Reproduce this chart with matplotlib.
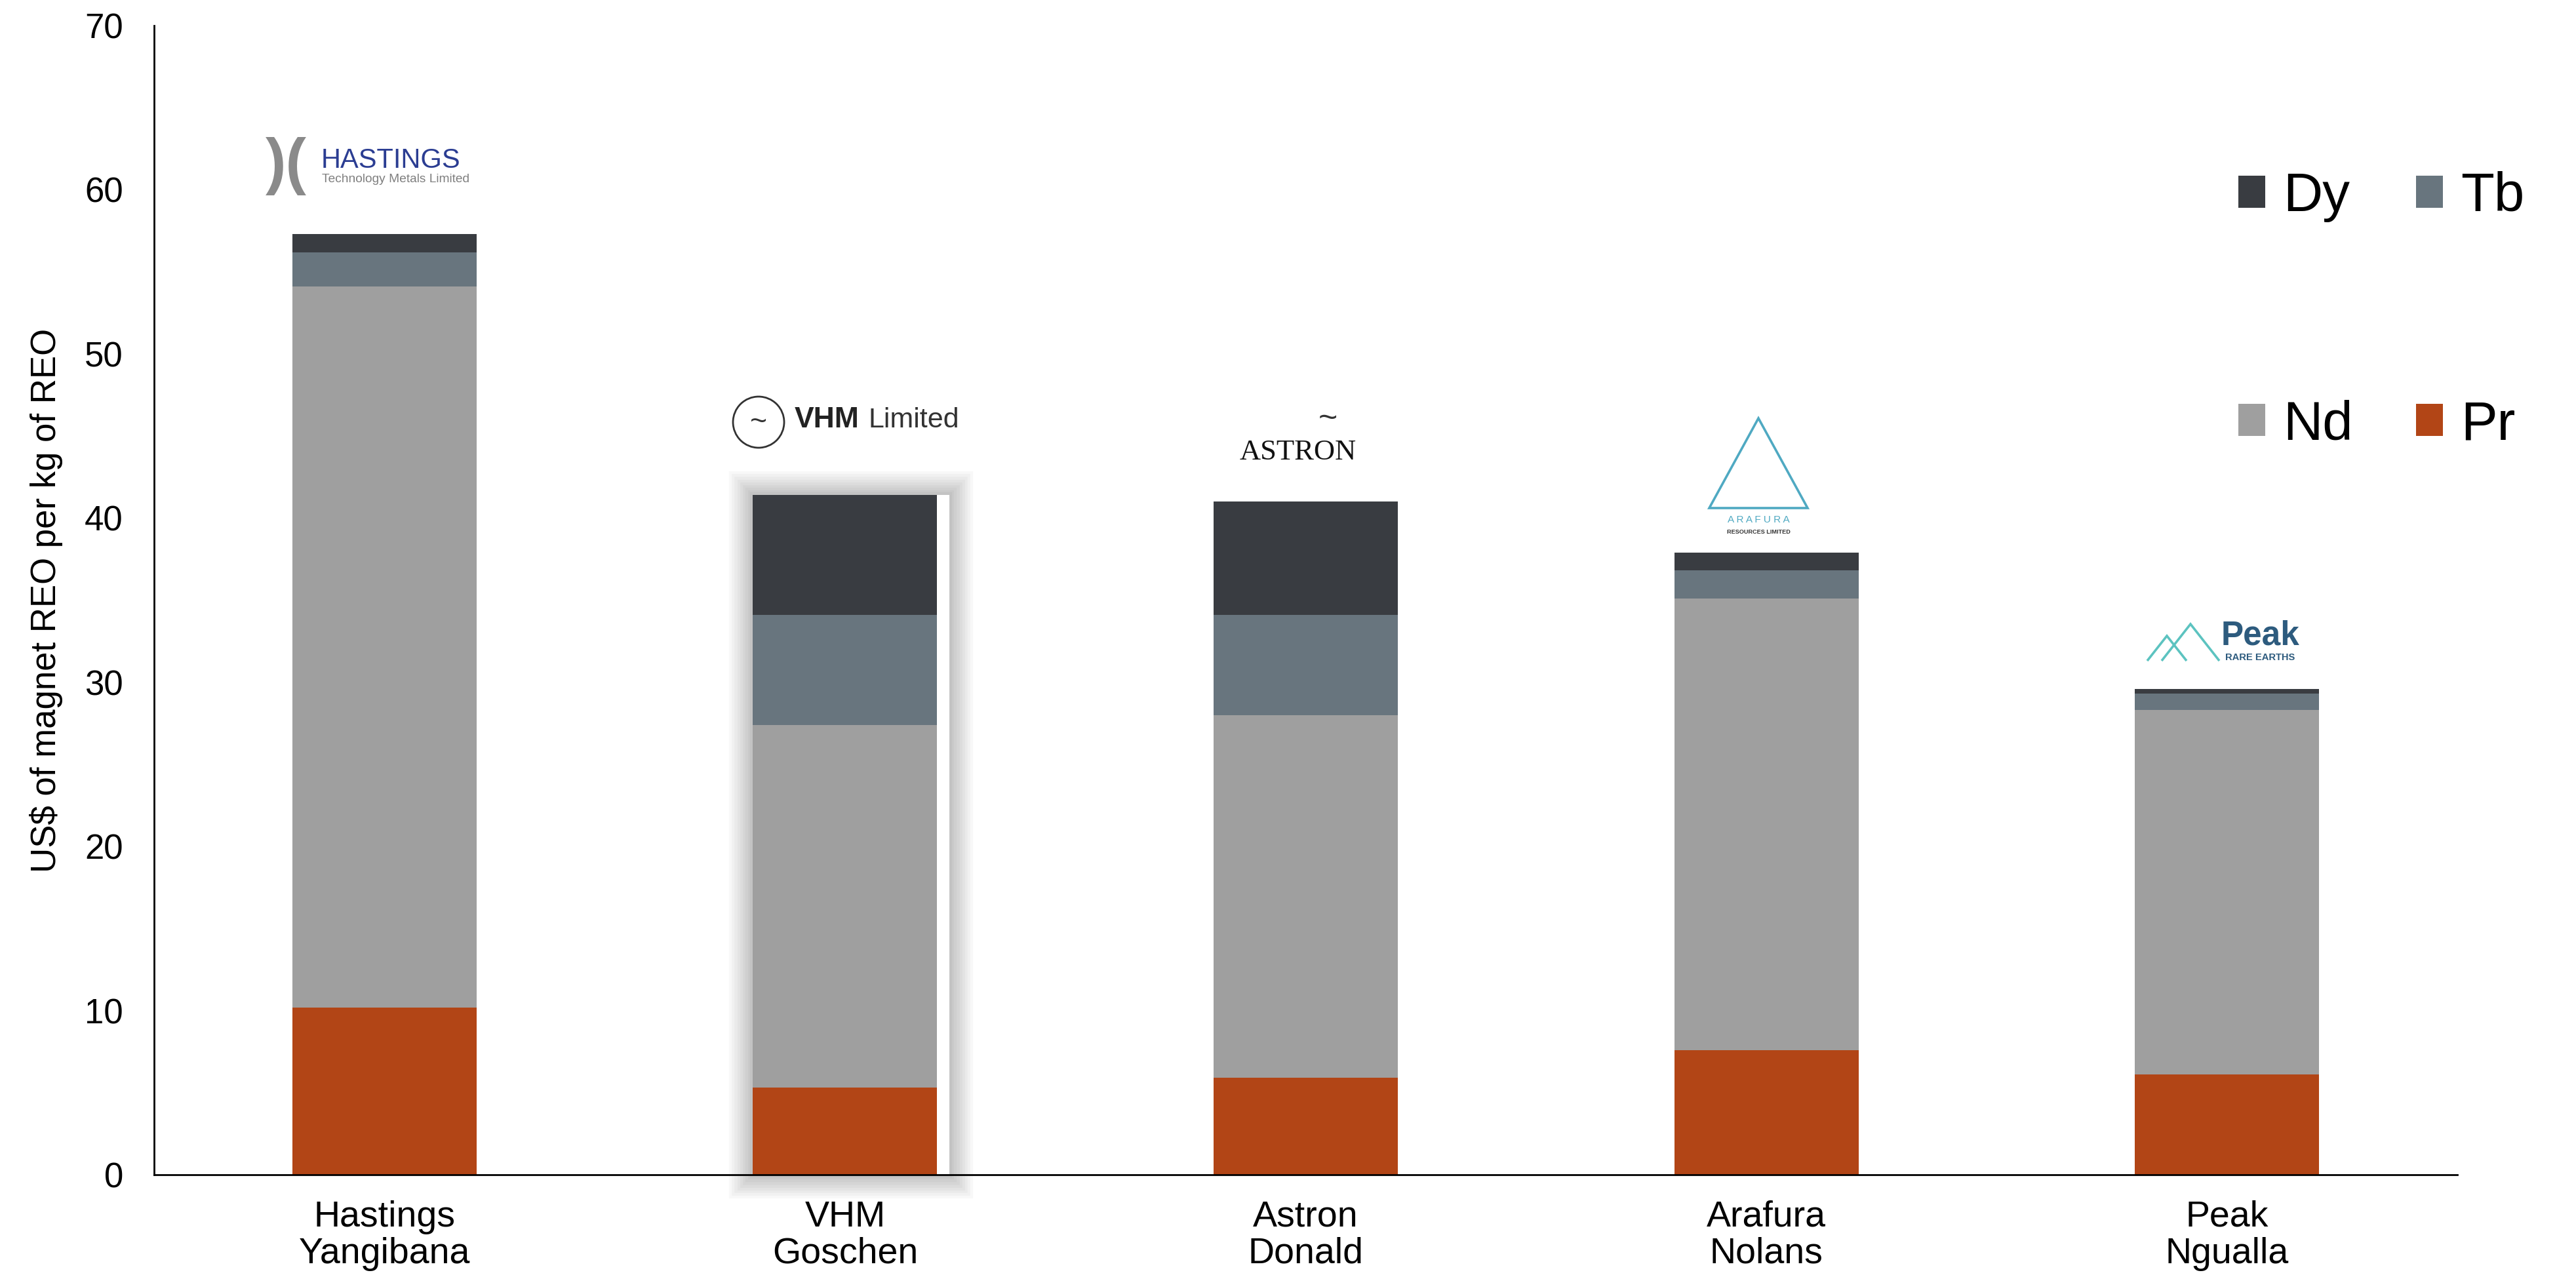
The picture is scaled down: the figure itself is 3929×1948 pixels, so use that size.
import matplotlib
matplotlib.use("Agg")
import matplotlib.pyplot as plt
from matplotlib.patches import Rectangle, Ellipse, Polygon
from matplotlib import patheffects as pe
import numpy as np

# ---------------- data ----------------
categories = ["Hastings\nYangibana", "VHM\nGoschen", "Astron\nDonald", "Arafura\nNolans", "Peak\nNgualla"]
pr = [10.2, 5.3, 5.9, 7.6, 6.1]
nd = [43.9, 22.1, 22.1, 27.5, 22.2]
tb = [2.1, 6.7, 6.1, 1.7, 1.0]
dy = [1.1, 7.3, 6.9, 1.1, 0.3]
series_names = ["Pr", "Nd", "Tb", "Dy"]
yticks = [0, 10, 20, 30, 40, 50, 60, 70]

colors = {"Pr": "#B24516", "Nd": "#9F9F9F", "Tb": "#68757E", "Dy": "#393C41"}

plt.rcParams["font.family"] = ["Liberation Sans", "DejaVu Sans"]

W, H = 3929, 1948
DPI = 200
fig = plt.figure(figsize=(W / DPI, H / DPI), dpi=DPI)
ax = fig.add_axes([235 / W, 1 - 1792 / H, (3748 - 235) / W, (1792 - 39) / H])

x = np.arange(len(categories)) + 0.5
bw = 0.4
values = {"Pr": pr, "Nd": nd, "Tb": tb, "Dy": dy}
bottom = np.zeros(len(categories))
handles = {}
for name in series_names:
    v = np.array(values[name])
    bars = ax.bar(x, v, bw, bottom=bottom, color=colors[name], edgecolor="none",
                  zorder=3, label=name)
    handles[name] = bars
    bottom = bottom + v
totals = bottom

# soft shadow frame around the VHM bar
vb = handles["Pr"].patches[1]
effects = [pe.Stroke(linewidth=lw, foreground="black", alpha=0.028)
           for lw in (26, 23, 20, 17, 14, 11, 8, 5, 3)]
effects.append(pe.Normal())
shadow = Rectangle((vb.get_x(), 0), vb.get_width() * 1.065, totals[1],
                   facecolor="white", edgecolor="none", zorder=2, clip_on=False,
                   path_effects=effects)
ax.add_patch(shadow)

ax.set_xlim(0, len(categories))
ax.set_ylim(0, 70)
ax.set_yticks(yticks)
ax.set_xticks(x)
ax.set_xticklabels(categories, fontsize=20, linespacing=1.1)
ax.tick_params(axis="y", labelsize=19, length=0, pad=17)
ax.tick_params(axis="x", length=0, pad=14)
for s in ["top", "right"]:
    ax.spines[s].set_visible(False)
for s in ["left", "bottom"]:
    ax.spines[s].set_linewidth(1.0)
    ax.spines[s].set_color("black")
    ax.spines[s].set_zorder(4)
ax.set_ylabel("US$ of magnet REO per kg of REO", fontsize=19, labelpad=12)

# legend (column order: Dy, Nd | Tb, Pr)
order = ["Dy", "Nd", "Tb", "Pr"]
leg = ax.legend([handles[n] for n in order], order, ncol=2, frameon=False,
                fontsize=30, handlelength=0.5, handleheight=0.53, handletextpad=0.32,
                labelspacing=3.25, columnspacing=1.15, borderpad=0,
                loc="center", bbox_to_anchor=(3632 / W, 1 - 474 / H),
                bbox_transform=fig.transFigure)


def fx(px):
    return px / W


def fy(py):
    return 1 - py / H


# ---------------- logos (approximated as text / simple shapes) ----------------
# Hastings
fig.text(fx(436), fy(253), ")(", fontsize=34, color="#8A8A8A", ha="center", va="center",
         fontweight="bold")
fig.text(fx(490), fy(245), "HASTINGS", fontsize=15, color="#2B3D92", ha="left", va="center")
fig.text(fx(491), fy(273), "Technology Metals Limited", fontsize=6.9, color="#7F7F7F",
         ha="left", va="center")

# VHM
fig.add_artist(Ellipse((fx(1157), fy(644)), 78 / W, 78 / H, facecolor="none",
                       edgecolor="#333333", linewidth=1.0))
fig.text(fx(1157), fy(644), "~", fontsize=16, color="#333333", ha="center", va="center")
fig.text(fx(1212), fy(641), "VHM", fontsize=16, color="#222222", ha="left", va="center",
         fontweight="bold")
fig.text(fx(1325), fy(641), "Limited", fontsize=15.5, color="#333333", ha="left",
         va="center")

# Astron
fig.text(fx(1980), fy(690), "ASTRON", fontsize=16, color="#111111", ha="center",
         va="center", family="Liberation Serif")
fig.text(fx(2025), fy(640), "~", fontsize=18, color="#333333", ha="center", va="center")

# Arafura
fig.add_artist(Polygon([(fx(2607), fy(775)), (fx(2682), fy(638)), (fx(2757), fy(775))],
                       closed=True, facecolor="none", edgecolor="#4FA9C2", linewidth=1.3))
fig.text(fx(2682), fy(793), "A R A F U R A", fontsize=5.5, color="#4FA9C2", ha="center",
         va="center")
fig.text(fx(2682), fy(811), "RESOURCES LIMITED", fontsize=3.3, color="#333333",
         ha="center", va="center", fontweight="bold")

# Peak
fig.add_artist(Polygon([(fx(3275), fy(1008)), (fx(3305), fy(970)), (fx(3335), fy(1008))],
                       closed=False, facecolor="none", edgecolor="#5CC3C0", linewidth=1.3))
fig.add_artist(Polygon([(fx(3297), fy(1008)), (fx(3341), fy(952)), (fx(3385), fy(1008))],
                       closed=False, facecolor="none", edgecolor="#5CC3C0", linewidth=1.3))
fig.text(fx(3388), fy(970), "Peak", fontsize=18.5, color="#2D5B7E", ha="left",
         va="center", fontweight="bold")
fig.text(fx(3394), fy(1003), "RARE EARTHS", fontsize=5.3, color="#2D5B7E", ha="left",
         va="center", fontweight="bold")

fig.savefig("out.png", dpi=DPI, facecolor="white")
